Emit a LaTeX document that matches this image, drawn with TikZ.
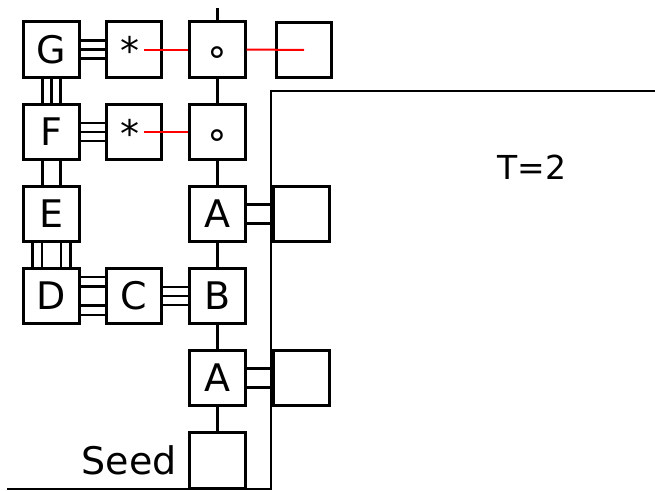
\documentclass[tikz,border=0pt]{standalone}
\usepackage{fontspec}
\setmainfont{DejaVu Sans}
\begin{document}
\begin{tikzpicture}[x=1pt,y=-1pt,
 bx/.style={draw,line width=2.6pt,minimum size=55.5pt,inner sep=0pt,font=\fontsize{38}{40}\selectfont},
 cn/.style={line width=2.5pt},
 rd/.style={red,line width=2pt},
 sym/.style={inner sep=0pt,anchor=base,font=\fontsize{38}{40}\selectfont}]
\useasboundingbox (0,0) rectangle (655,490);
% boxes
\node[bx] (G) at (51.5,49.5) {G};
\node[bx] (s1) at (134,49.5) {};
\node[bx] (o1) at (217.5,49.5) {};
\node[bx] (r1) at (304,50) {};
\node[bx] (F) at (51.5,132) {F};
\node[bx] (s2) at (134,132) {};
\node[bx] (o2) at (217.5,132) {};
\node[bx] (E) at (51.5,214) {E};
\node[bx] (A1) at (217.5,214) {A};
\node[bx] (r2) at (301.5,214) {};
\node[bx] (D) at (51.5,296) {D};
\node[bx] (C) at (134,296) {C};
\node[bx] (B) at (217.5,296) {B};
\node[bx] (A2) at (217.5,378) {A};
\node[bx] (r3) at (301.5,378) {};
\node[bx] (seed) at (217.5,460.5) {};
% symbols
\node[sym] (a1) at (130,64) {*};
\node[sym] (a2) at (130,147) {*};
\node[sym] (c1) at (217.5,64.5) {∘};
\node[sym] (c2) at (217.5,147) {∘};
% labels
\node[font=\fontsize{38}{40}\selectfont,anchor=base east,inner sep=0pt] (seedlbl) at (177,474) {Seed};
\node[font=\fontsize{33}{35}\selectfont,anchor=base,inner sep=0pt] (T) at (532,179) {T=2};
% single connectors
\coordinate (top) at (217.5,8);
\draw[cn] (top) -- (o1.north);
\draw[cn] (o1.south) -- (o2.north);
\draw[cn] (o2.south) -- (A1.north);
\draw[cn] (A1.south) -- (B.north);
\draw[cn] (B.south) -- (A2.north);
\draw[cn] (A2.south) -- (seed.north);
% multiple bonds
\foreach \d in {-8.8,0,8.8} \draw[cn] ([yshift=\d pt]G.east) -- ([yshift=\d pt]s1.west);
\foreach \d in {-8.8,0,8.8} \draw[cn] ([yshift=\d pt]F.east) -- ([yshift=\d pt]s2.west);
\foreach \d in {-9,0,9} \draw[cn] ([xshift=\d pt]G.south) -- ([xshift=\d pt]F.north);
\foreach \d in {-9,9} \draw[cn] ([xshift=\d pt]F.south) -- ([xshift=\d pt]E.north);
\foreach \d in {-19,-9.5,9.5,19} \draw[cn] ([xshift=\d pt]E.south) -- ([xshift=\d pt]D.north);
\foreach \d in {-19,-9.5,9.5,19} \draw[cn] ([yshift=\d pt]D.east) -- ([yshift=\d pt]C.west);
\foreach \d in {-9,0,9} \draw[cn] ([yshift=\d pt]C.east) -- ([yshift=\d pt]B.west);
\foreach \d in {-9.5,9.5} \draw[cn] ([yshift=\d pt]A1.east) -- ([yshift=\d pt]r2.west);
\foreach \d in {-9.5,9.5} \draw[cn] ([yshift=\d pt]A2.east) -- ([yshift=\d pt]r3.west);
% red lines
\draw[rd] ([xshift=10pt]s1.center) -- (o1.west);
\draw[rd] (o1.east) -- (r1.center);
\draw[rd] ([xshift=10pt]s2.center) -- (o2.west);
% boundary lines
\coordinate (Ltr) at (655,91);
\coordinate (Lc) at (271,91);
\coordinate (Lb) at (271,490);
\coordinate (Bl) at (7,489);
\coordinate (Br) at (271,489);
\draw[cn] (Ltr) -- (Lc) -- (Lb);
\draw[cn] (Bl) -- (Br);
\end{tikzpicture}
\end{document}
